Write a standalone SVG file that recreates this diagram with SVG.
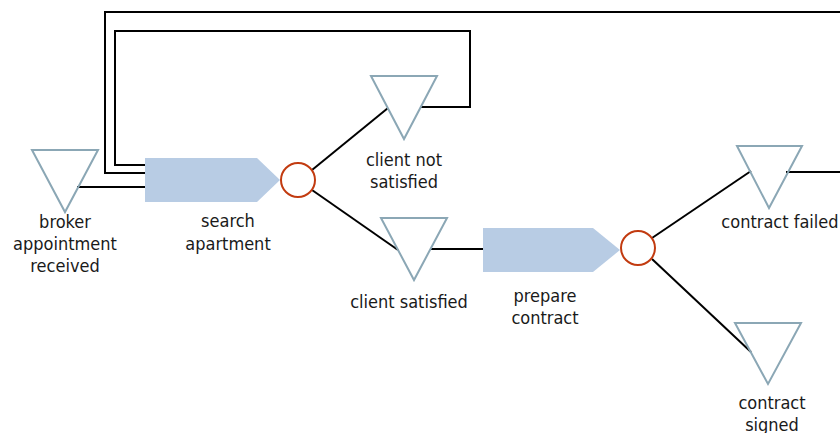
<svg xmlns="http://www.w3.org/2000/svg" width="840" height="433" viewBox="0 0 840 433">
<style>
.ev{fill:none;stroke:#8ba7b5;stroke-width:2}
.fn{fill:#b8cce4;stroke:none}
.op{fill:none;stroke:#c23b10;stroke-width:2}
.c{fill:none;stroke:#000;stroke-width:2}
text{font-family:"DejaVu Sans Condensed","Liberation Sans",sans-serif;font-size:18px;fill:#1a1a1a;text-anchor:middle}
</style>
<rect width="840" height="433" fill="#fff"/>
<g id="connectors">
<path class="c" d="M77,187 H145"/>
<path class="c" d="M312,170 L388,108"/>
<path class="c" d="M420,107 H470 V31 H115 V165 H145"/>
<path class="c" d="M312,190 L398,250"/>
<path class="c" d="M431,249 H483"/>
<path class="c" d="M652,238 L751,171"/>
<path class="c" d="M652,259 L751,352"/>
<path class="c" d="M786,172 H860 V12 H105 V173 H145"/>
</g>
<g id="broker">
<polygon class="ev" points="32,150 98,150 65,212"/>
<text x="65" y="228">broker</text>
<text x="65" y="250">appointment</text>
<text x="65" y="272">received</text>
</g>
<g id="search">
<polygon class="fn" points="145,158 257,158 280,180 257,202 145,202"/>
<text x="228" y="227">search</text>
<text x="228" y="250">apartment</text>
</g>
<g id="xor1">
<circle class="op" cx="298" cy="180" r="17"/>
</g>
<g id="notsatisfied">
<polygon class="ev" points="371,76 437,76 404,139"/>
<text x="404" y="166">client not</text>
<text x="404" y="188">satisfied</text>
</g>
<g id="satisfied">
<polygon class="ev" points="381,218 447,218 414,280"/>
<text x="409" y="308">client satisfied</text>
</g>
<g id="prepare">
<polygon class="fn" points="483,228 593,228 620,250 593,272 483,272"/>
<text x="545" y="302">prepare</text>
<text x="545" y="324">contract</text>
</g>
<g id="xor2">
<circle class="op" cx="638" cy="248" r="17"/>
</g>
<g id="failed">
<polygon class="ev" points="737,146 802,146 769,208"/>
<text x="780" y="228">contract failed</text>
</g>
<g id="signed">
<polygon class="ev" points="735,323 801,323 768,384"/>
<text x="772" y="409">contract</text>
<text x="772" y="431">signed</text>
</g>
</svg>
